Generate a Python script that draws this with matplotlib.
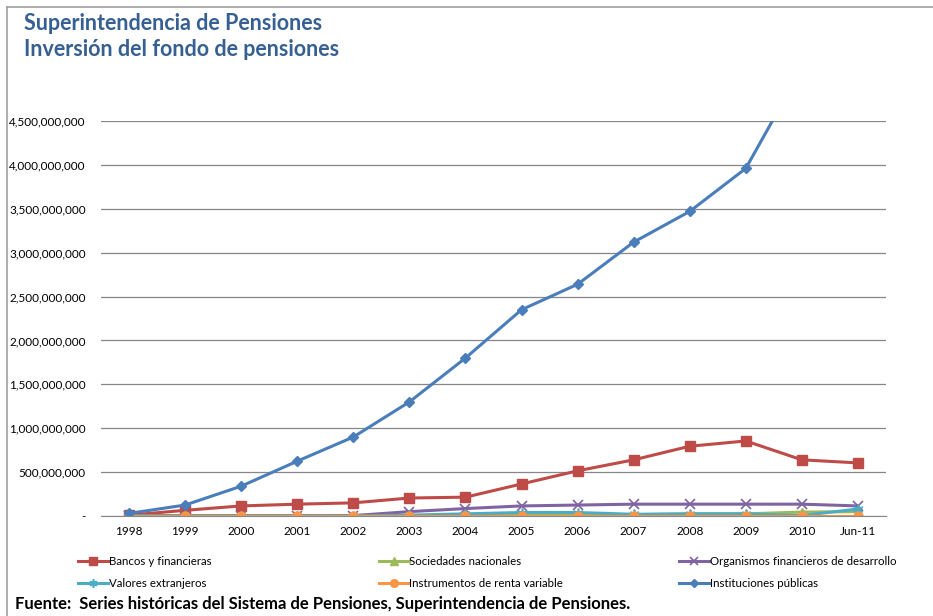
import matplotlib
matplotlib.use('Agg')
import matplotlib.pyplot as plt
from matplotlib.lines import Line2D
from matplotlib.ticker import FuncFormatter

plt.rcParams['font.family'] = ['Lato', 'DejaVu Sans']

years = ['1998', '1999', '2000', '2001', '2002', '2003', '2004', '2005',
         '2006', '2007', '2008', '2009', '2010', 'Jun-11']

bancos = [10e6, 65e6, 115e6, 135e6, 150e6, 205e6, 215e6, 365e6,
          515e6, 640e6, 795e6, 855e6, 640e6, 605e6]
sociedades = [3e6, 3e6, 3e6, 3e6, 3e6, 3e6, 5e6, 10e6,
              10e6, 15e6, 25e6, 25e6, 45e6, 50e6]
organismos = [2e6, 3e6, 3e6, 3e6, 5e6, 50e6, 85e6, 115e6,
              125e6, 135e6, 135e6, 135e6, 135e6, 115e6]
valores = [2e6, 2e6, 2e6, 2e6, 2e6, 10e6, 25e6, 40e6,
           40e6, 20e6, 25e6, 25e6, 5e6, 80e6]
renta_var = [2e6, 2e6, 2e6, 2e6, 2e6, 2e6, 2e6, 2e6,
             2e6, 2e6, 2e6, 2e6, 2e6, 2e6]
instituciones = [30e6, 125e6, 340e6, 625e6, 900e6, 1300e6, 1800e6, 2350e6,
                 2640e6, 3120e6, 3470e6, 3960e6, 5100e6, 5600e6]

title_color = '#376092'
grid_color = '#878787'

fig = plt.figure(figsize=(9.33, 6.16), dpi=100)
ax = fig.add_axes([0.1083, 0.1623, 0.8413, 0.6413])

x = list(range(len(years)))
lw = 2.2
series = [
    ('Bancos y financieras', bancos, '#BE4B48', dict(marker='s', markersize=6.5)),
    ('Sociedades nacionales', sociedades, '#9BBB59', dict(marker='^', markersize=6)),
    ('Organismos financieros de desarrollo', organismos, '#8064A2',
     dict(marker='x', markersize=6.5, markeredgewidth=1.2)),
    ('Valores extranjeros', valores, '#4BACC6',
     dict(marker=(6, 2, 0), markersize=7, markeredgewidth=1.2)),
    ('Instrumentos de renta variable', renta_var, '#F79646', dict(marker='o', markersize=6.5)),
    ('Instituciones públicas', instituciones, '#4A7EBB', dict(marker='D', markersize=5)),
]

handles = {}
for name, vals, col, mk in series:
    ln, = ax.plot(x, vals, color=col, lw=lw, markerfacecolor=col,
                  markeredgecolor=col, label=name, clip_on=True, **mk)
    handles[name] = ln

ax.set_xlim(-0.5, len(years) - 0.5)
ax.set_ylim(0, 4.5e9)
ax.set_yticks([i * 5e8 for i in range(10)])
ax.yaxis.set_major_formatter(FuncFormatter(lambda v, p: '-' if v == 0 else f'{v:,.0f}'))
ax.set_xticks(x)
ax.set_xticklabels(years)
ax.tick_params(axis='both', length=0, labelsize=8.5, colors='#000000')
ax.tick_params(axis='y', pad=11)
ax.tick_params(axis='x', pad=7)
ax.grid(axis='y', color=grid_color, lw=0.9)
ax.set_axisbelow(True)
for s in ['top', 'right', 'left']:
    ax.spines[s].set_visible(False)
ax.spines['bottom'].set_color(grid_color)

# legend, three columns of two rows
cols = [
    (['Bancos y financieras', 'Valores extranjeros'], 0.084),
    (['Sociedades nacionales', 'Instrumentos de renta variable'], 0.406),
    (['Organismos financieros de desarrollo', 'Instituciones públicas'], 0.728),
]
for names, xpos in cols:
    fig.legend([handles[n] for n in names], names, loc='upper left',
               bbox_to_anchor=(xpos, 0.098), frameon=False, fontsize=8.3,
               handlelength=2.6, handletextpad=0.05, labelspacing=0.95,
               borderaxespad=0, borderpad=0, markerscale=0.85)

fig.text(0.026, 0.962, 'Superintendencia de Pensiones', fontsize=15.5,
         fontweight='bold', color=title_color, va='center')
fig.text(0.026, 0.92, 'Inversión del fondo de pensiones', fontsize=15.5,
         fontweight='bold', color=title_color, va='center')
fig.text(0.016, 0.019, 'Fuente:  Series históricas del Sistema de Pensiones, Superintendencia de Pensiones.',
         fontsize=12, fontweight='bold', color='#000000', va='center')

# outer frame (top and left edges)
fig.add_artist(Line2D([0.0075, 0.0075], [0.0, 0.989], color='#A0A0A0', lw=1.2,
                      transform=fig.transFigure))
fig.add_artist(Line2D([0.0075, 1.0], [0.989, 0.989], color='#A0A0A0', lw=1.2,
                      transform=fig.transFigure))

fig.savefig('out.png', dpi=100)
